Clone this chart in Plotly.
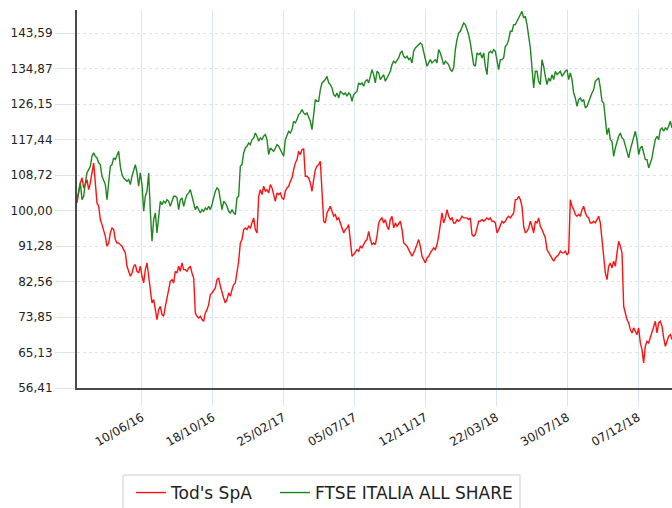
import pandas as pd
import plotly.graph_objects as go

# ---- data ----
tods_seg1 = [101.88, 104.34, 106.80, 108.02, 105.57, 106.39, 107.61, 105.16, 106.80, 109.25,
             111.71, 106.80, 101.88, 101.06, 97.79, 96.56, 95.33, 93.69, 91.23, 92.05,
             94.51, 95.74, 95.33, 92.87, 92.05, 92.05, 91.64, 91.23, 90.42, 89.60,
             86.32, 85.09, 83.86, 84.68, 86.32, 86.73, 85.09, 84.68, 86.32, 83.86,
             82.23, 85.50, 87.14, 83.86, 79.77, 77.31, 78.13, 75.67, 73.22, 75.67,
             76.49, 74.45, 74.04, 76.49, 78.54, 79.77, 82.64, 83.04, 82.23, 85.09]
tods_seg2 = [84.68, 86.32, 85.09, 87.14, 85.50, 85.50, 85.09, 85.91, 86.32, 84.68,
             83.45, 74.85, 74.03, 73.63, 74.03, 73.22, 72.81, 74.85, 75.67, 76.90,
             79.36, 79.77, 80.59, 81.00, 83.04, 83.45, 81.41, 79.77, 78.54, 77.31,
             78.13, 79.77, 78.95, 80.59, 81.82, 82.22, 84.68, 87.55, 92.05, 92.87,
             95.33, 95.74, 95.33, 96.15, 95.74, 96.97, 98.20, 95.33, 94.51, 103.52,
             105.16, 103.93, 105.98, 104.75, 105.16, 104.34, 106.39, 105.57, 103.52, 102.29]
tods_seg3 = [104.34, 103.93, 104.34, 103.11, 102.70, 104.75, 105.57, 105.98, 107.21, 108.03,
             110.07, 111.71, 112.53, 114.58, 113.76, 114.99, 115.15, 108.43, 108.43, 108.03,
             106.80, 104.75, 107.62, 110.07, 110.89, 111.30, 112.12, 104.34, 97.38, 96.97,
             99.43, 100.24, 101.06, 99.84, 98.61, 99.02, 97.79, 98.20, 96.97, 96.15,
             94.51, 95.33, 95.74, 96.56, 92.87, 88.78, 89.19, 90.01, 90.42, 90.01,
             91.24, 90.83, 91.65, 92.46, 92.87, 94.92, 92.87, 91.65, 92.05, 91.65]
tods_seg4 = [93.70, 96.97, 97.79, 98.20, 96.97, 97.79, 96.15, 95.34, 97.79, 98.61,
             95.75, 96.97, 96.15, 96.97, 97.38, 95.34, 92.06, 91.65, 91.24, 90.42,
             89.60, 88.78, 89.60, 90.42, 91.65, 92.88, 91.24, 88.78, 87.96, 87.15,
             88.37, 88.78, 89.60, 90.42, 90.83, 90.42, 91.65, 93.70, 96.97, 99.43,
             96.97, 98.20, 100.25, 98.61, 97.79, 98.20, 96.97, 96.97, 97.79, 97.38,
             97.79, 98.61, 98.20, 98.20, 98.20, 97.79, 98.20, 94.11, 93.70, 94.11]
tods_seg5 = [96.15, 97.38, 97.38, 97.79, 97.38, 97.79, 98.20, 97.79, 98.20, 97.38,
             97.38, 96.97, 94.51, 95.33, 96.15, 97.38, 96.97, 97.38, 98.20, 98.60,
             98.20, 99.01, 99.42, 102.70, 102.70, 103.52, 102.70, 101.06, 96.15, 94.51,
             94.92, 95.74, 97.38, 96.15, 94.51, 97.38, 96.97, 98.20, 96.15, 95.33,
             94.10, 93.28, 90.41, 89.60, 88.78, 88.37, 87.55, 88.37, 88.78, 89.19,
             90.01, 89.60, 89.60, 90.01, 89.19, 89.60, 102.70, 101.06, 100.24, 99.01]
tods_seg6 = [98.61, 99.02, 98.61, 100.24, 101.06, 99.43, 98.61, 98.20, 96.97, 96.97,
             97.38, 96.97, 97.79, 98.61, 96.97, 92.87, 89.60, 84.68, 83.05, 86.32,
             87.14, 85.91, 87.55, 86.32, 89.60, 92.46, 91.24, 89.60, 76.49, 74.45,
             73.22, 72.40, 70.76, 69.94, 71.17, 70.35, 69.53, 71.17, 67.48, 65.85,
             62.57, 66.67, 67.89, 67.48, 68.71, 69.94, 71.58, 72.81, 69.94, 72.40,
             72.81, 71.58, 68.71, 66.67, 67.89, 69.12, 69.53, 68.30]

ftse_seg1 = [102.70, 104.75, 106.80, 102.70, 103.52, 106.80, 109.25, 110.07, 110.89, 113.35,
             114.17, 113.35, 112.94, 111.71, 111.30, 108.43, 107.61, 106.39, 102.70, 106.39,
             110.89, 111.30, 112.94, 112.53, 113.76, 114.58, 110.89, 108.84, 108.02, 107.61,
             107.21, 107.61, 106.39, 108.43, 110.07, 111.30, 109.25, 105.98, 109.25, 106.39,
             99.83, 103.52, 104.75, 109.25, 99.83, 92.46, 97.79, 99.42, 94.51, 99.42,
             102.29, 101.47, 102.29, 101.88, 102.70, 102.29, 101.06, 102.29, 103.52, 103.52]
ftse_seg2 = [103.11, 100.24, 102.70, 103.11, 101.06, 102.70, 103.93, 104.34, 105.16, 103.52,
             101.88, 100.24, 101.06, 100.24, 99.42, 100.24, 99.83, 100.65, 100.24, 101.06,
             100.24, 101.47, 103.11, 104.75, 105.57, 105.16, 102.70, 100.24, 102.29, 101.88,
             101.06, 99.83, 99.42, 100.24, 99.42, 99.01, 103.11, 103.52, 110.89, 111.30,
             114.17, 115.39, 115.80, 116.62, 116.21, 117.44, 117.85, 119.08, 118.26, 117.03,
             117.85, 117.44, 118.26, 118.67, 117.44, 113.76, 115.39, 114.98, 114.58, 115.39]
ftse_seg3 = [116.22, 115.81, 114.99, 114.58, 113.35, 117.44, 118.67, 119.49, 119.08, 119.90,
             121.95, 121.54, 122.36, 123.59, 124.00, 124.81, 124.00, 123.59, 124.00, 122.77,
             121.95, 119.90, 124.00, 127.27, 126.86, 126.86, 129.73, 131.37, 131.78, 132.19,
             133.00, 131.37, 130.96, 130.14, 128.50, 128.09, 128.91, 127.68, 129.32, 128.91,
             128.50, 128.91, 128.09, 128.91, 128.50, 126.86, 128.50, 128.91, 129.32, 131.37,
             130.96, 131.37, 130.55, 131.78, 132.19, 131.37, 133.41, 134.64, 133.41, 131.37]
ftse_seg4 = [134.24, 133.83, 132.19, 133.01, 133.42, 131.78, 132.60, 133.42, 134.24, 135.88,
             136.70, 136.29, 137.10, 137.51, 138.74, 139.15, 137.92, 137.51, 137.92, 137.10,
             137.51, 136.29, 139.15, 139.97, 140.38, 140.79, 141.20, 140.79, 138.74, 136.70,
             135.47, 136.29, 137.10, 136.29, 136.70, 137.10, 136.29, 139.56, 138.74, 137.10,
             135.88, 136.70, 136.29, 135.88, 134.65, 134.24, 135.06, 139.56, 142.02, 143.66,
             144.07, 145.29, 146.11, 145.70, 144.48, 143.25, 141.20, 138.74, 135.88, 135.47]
ftse_seg5 = [138.74, 138.33, 138.74, 137.51, 138.74, 135.46, 133.41, 138.74, 139.15, 138.74,
             139.55, 139.15, 136.69, 134.64, 137.10, 137.10, 137.51, 140.37, 140.78, 142.01,
             144.06, 144.06, 145.70, 145.70, 146.52, 147.34, 148.15, 148.97, 147.34, 147.74,
             145.70, 142.42, 139.96, 135.05, 130.14, 134.23, 134.23, 131.77, 130.96, 137.10,
             135.46, 133.00, 130.96, 132.59, 131.77, 133.41, 132.18, 134.23, 133.41, 133.82,
             134.23, 133.00, 133.82, 134.23, 134.64, 132.18, 133.82, 132.18, 128.91, 127.68]
ftse_seg6 = [125.63, 127.27, 127.68, 126.86, 127.27, 125.22, 125.63, 126.86, 127.68, 128.91,
             129.73, 131.78, 132.19, 132.60, 130.14, 126.86, 126.45, 122.77, 118.67, 120.31,
             117.44, 117.03, 113.35, 115.40, 117.03, 118.26, 119.08, 117.85, 117.44, 115.81,
             114.58, 112.94, 114.99, 116.62, 117.85, 119.49, 117.44, 113.76, 115.40, 115.81,
             114.17, 112.53, 112.53, 110.48, 111.71, 112.94, 115.40, 117.44, 118.26, 117.44,
             119.90, 120.31, 119.49, 120.31, 119.90, 120.72, 121.95, 120.31]

tods = tods_seg1 + tods_seg2 + tods_seg3 + tods_seg4 + tods_seg5 + tods_seg6
ftse = ftse_seg1 + ftse_seg2 + ftse_seg3 + ftse_seg4 + ftse_seg5 + ftse_seg6

start_date = "2016-02-12"
end_date = "2019-02-07"
dates = pd.date_range(start_date, end_date, periods=len(tods))

x_tick_dates = ["2016-06-10", "2016-10-18", "2017-02-25", "2017-07-05",
                "2017-11-12", "2018-03-22", "2018-07-30", "2018-12-07"]
x_tick_labels = ["10/06/16", "18/10/16", "25/02/17", "05/07/17",
                 "12/11/17", "22/03/18", "30/07/18", "07/12/18"]
y_tick_vals = [56.41, 65.13, 73.85, 82.56, 91.28, 100.00, 108.72, 117.44, 126.15, 134.87, 143.59]
y_tick_labels = ["56,41", "65,13", "73,85", "82,56", "91,28", "100,00",
                 "108,72", "117,44", "126,15", "134,87", "143,59"]
y_max = 149.29

series_names = ["Tod's SpA", "FTSE ITALIA ALL SHARE"]

# ---- figure ----
FONT = "Verdana, DejaVu Sans, sans-serif"
GRID = "#d6e5f7"
AXIS = "#4a4a4a"
W, H = 672, 508
ML, MT, MB = 77, 10, 120
PW, PH = W - ML, H - MT - MB


def px_x(p):
    return (p - ML) / PW


def px_y(p):
    return (H - MB - p) / PH


fig = go.Figure()
fig.add_trace(go.Scatter(x=dates, y=tods, mode="lines", name=series_names[0],
                         legend="legend",
                         line=dict(color="#ff1111", width=1.4)))
fig.add_trace(go.Scatter(x=dates, y=ftse, mode="lines", name=series_names[1],
                         legend="legend2",
                         line=dict(color="#1e861e", width=1.4)))

legend_common = dict(orientation="h", y=px_y(475), xanchor="left", yanchor="top",
                     borderwidth=0, bgcolor="rgba(0,0,0,0)",
                     font=dict(family=FONT, size=17, color="#222222"))

fig.update_layout(
    width=W, height=H, autosize=False,
    margin=dict(l=ML, r=0, t=MT, b=MB, autoexpand=False),
    paper_bgcolor="white", plot_bgcolor="white",
    font=dict(family=FONT, color="#222222"),
    showlegend=True,
    legend=dict(x=px_x(131), **legend_common),
    legend2=dict(x=px_x(275), **legend_common),
    shapes=[dict(type="rect", xref="paper", yref="paper",
                 x0=px_x(123), x1=px_x(520), y0=px_y(475), y1=px_y(520),
                 line=dict(color="#cccccc", width=1), fillcolor="rgba(0,0,0,0)",
                 layer="below")],
)
fig.update_xaxes(
    range=[start_date, end_date], automargin=False,
    tickmode="array", tickvals=x_tick_dates, ticktext=x_tick_labels,
    tickangle=-30, tickfont=dict(family=FONT, size=12, color="#222222"),
    showgrid=True, gridcolor=GRID, gridwidth=1,
    ticks="outside", ticklen=16, tickcolor=GRID, tickwidth=1,
    showline=True, linecolor=AXIS, linewidth=2, zeroline=False,
)
fig.update_yaxes(
    range=[y_tick_vals[0], y_max], automargin=False,
    tickmode="array", tickvals=y_tick_vals, ticktext=y_tick_labels,
    tickfont=dict(family=FONT, size=12, color="#222222"),
    showgrid=True, gridcolor=GRID, gridwidth=1, griddash="dot",
    ticks="outside", ticklen=20, tickcolor=GRID, tickwidth=1,
    showline=True, linecolor=AXIS, linewidth=2, zeroline=False,
)

fig.write_html("out.html", config={"displayModeBar": False},
               post_script="document.body.style.margin='0px';"
                           "document.body.style.overflow='hidden';")
